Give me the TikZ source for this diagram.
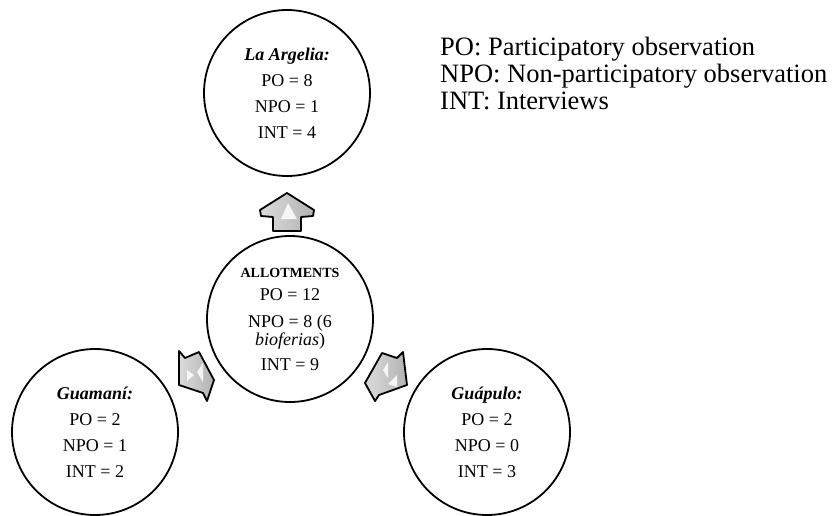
\documentclass[tikz,border=0pt]{standalone}
\usepackage{fontspec}
\setmainfont{Liberation Serif}
\begin{document}
\begin{tikzpicture}[x=1pt,y=-1pt,
  site/.style={circle,draw=black,line width=1.8pt,minimum size=166pt,inner sep=0pt,
    align=center,font=\fontsize{18}{26}\selectfont},
  hub/.style={site,font=\fontsize{18}{18}\selectfont},
  blockarrow/.style={draw=black,line width=1.8pt,line join=round,
    left color=gray!28,right color=gray!60},
  glint/.style={fill=white,draw=none,opacity=0.85},
  legend/.style={align=left,anchor=north west,inner sep=0pt,
    font=\fontsize{26.5}{27}\selectfont}]
\useasboundingbox (0,0) rectangle (833,515);

% study sites
\node[site] (argelia) at (287,93)
  {\textbf{\textit{La Argelia:}}\\PO = 8\\NPO = 1\\INT = 4};
\node[hub] (allot) at (290,319)
  {{\fontsize{14}{18}\selectfont\textbf{ALLOTMENTS}}\\[5pt]PO = 12\\[9pt]NPO = 8 (6\\\textit{bioferias})\\[7pt]INT = 9};
\node[site] (guamani) at (95,432)
  {\textbf{\textit{Guaman\'{\i}:}}\\PO = 2\\NPO = 1\\INT = 2};
\node[site] (guapulo) at (487,432)
  {\textbf{\textit{Gu\'apulo:}}\\PO = 2\\NPO = 0\\INT = 3};

% block arrows from the allotments to each site
\draw[blockarrow] (287,193) -- (314,210) -- (313,216) -- (301,217) -- (301,231)
  -- (273,231) -- (273,217) -- (261,216) -- (260,210) -- cycle;
\fill[glint] (288,203) -- (297,219) -- (281,219) -- cycle;

\draw[blockarrow] (179,351) -- (179,385) -- (203,393) -- (207,401) -- (214,380)
  -- (199,352) -- (185,358) -- cycle;
\fill[glint] (187,370) -- (194,375) -- (187,381) -- cycle;
\fill[glint] (203,363) -- (197,372) -- (203,382) -- cycle;

\draw[blockarrow] (403,352) -- (407,385) -- (379,395) -- (375,401) -- (365,383)
  -- (382,353) -- (397,358) -- cycle;
\fill[glint] (388,362) -- (383,370) -- (388,378) -- cycle;
\fill[glint] (397,375) -- (397,387) -- (388,384) -- cycle;

% abbreviations
\node[legend] (key) at (440,37)
  {PO: Participatory observation\\NPO: Non-participatory observation\\INT: Interviews};
\end{tikzpicture}
\end{document}
